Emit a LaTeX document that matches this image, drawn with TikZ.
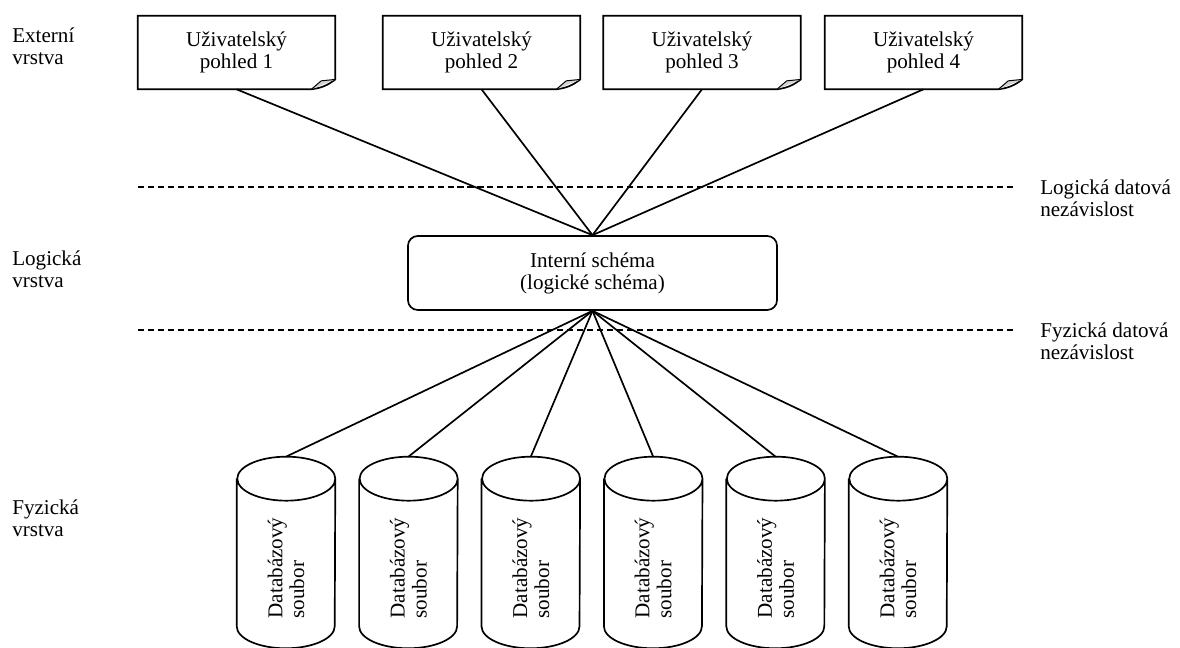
\documentclass[tikz,border=0pt]{standalone}
\usepackage{fontspec}
\setmainfont{Liberation Serif}

\begin{document}
\begin{tikzpicture}[x=0.025cm,y=0.025cm]

\tikzset{txt/.style = {font=\fontsize{15}{15.6}\selectfont}}
\tikzset{view/.style = {txt,shape=rectangle,minimum width=4.925cm,minimum height=1.825cm,inner sep=0pt,align=center}}
\tikzset{schema/.style = {txt,shape=rectangle,draw,line width=1.2pt,rounded corners=7pt,minimum width=9.225cm,minimum height=1.85cm,align=center}}
\tikzset{dbfile/.style = {shape=rectangle,minimum width=2.45cm,minimum height=4.775cm,inner sep=0pt}}
\tikzset{dbtext/.style = {txt,rotate=90,align=left,inner sep=0pt}}
\tikzset{layer/.style = {txt,anchor=west,align=left,inner sep=0pt}}
\tikzset{edge/.style = {line width=1.2pt}}
\tikzset{border/.style = {line width=1.3pt,dash pattern=on 4.3pt off 2.8pt}}

\useasboundingbox (0,0) rectangle (1180,648);

\node[view] (v1) at (236.5,595.5) {Uživatelský\\pohled 1};
\node[view] (v2) at (481.5,595.5) {Uživatelský\\pohled 2};
\node[view] (v3) at (702,595.5) {Uživatelský\\pohled 3};
\node[view] (v4) at (923.5,595.5) {Uživatelský\\pohled 4};
\foreach \v in {v1,v2,v3,v4}{
  \draw[edge] (\v.north west) -- (\v.north east) -- ([yshift=7pt]\v.south east)
    to[bend left=15] ([xshift=-17pt]\v.south east) -- (\v.south west) -- cycle;
  \draw[fill=gray!35,line width=0.7pt] ([xshift=-17pt]\v.south east)
    -- ([xshift=-10pt,yshift=6pt]\v.south east) -- ([yshift=7pt]\v.south east);
}

\node[schema] (is) at (592.5,375) {Interní schéma\\(logické schéma)};

\foreach \i/\x in {1/286,2/408.4,3/530.8,4/653.2,5/775.6,6/898}{
  \node[dbfile] (c\i) at (\x,95.5) {};
  \draw[edge] ([yshift=-0.55cm]c\i.north west) -- ([yshift=0.55cm]c\i.south west)
    arc[start angle=180,end angle=360,x radius=1.225cm,y radius=0.55cm]
    -- ([yshift=-0.55cm]c\i.north east)
    arc[start angle=0,end angle=360,x radius=1.225cm,y radius=0.55cm];
  \node[dbtext] (t\i) at (\x,80) {Databázový\\soubor};
}

\node[layer] (ext) at (12,602) {Externí\\vrstva};
\node[layer] (log) at (12,379) {Logická\\vrstva};
\node[layer] (fyz) at (12,130) {Fyzická\\vrstva};
\node[layer] (logind) at (1040,450) {Logická datová\\nezávislost};
\node[layer] (fyzind) at (1040,307) {Fyzická datová\\nezávislost};

\coordinate (a1) at (138,461);
\coordinate (b1) at (1015,461);
\coordinate (a2) at (138,318);
\coordinate (b2) at (1015,318);
\draw[border] (a1) -- (b1);
\draw[border] (a2) -- (b2);

%edges
\foreach \v in {v1,v2,v3,v4}
  \draw[edge] (\v.south) -- (is.north);
\foreach \i in {1,...,6}
  \draw[edge] (is.south) -- (c\i.north);

\end{tikzpicture}
\end{document}
